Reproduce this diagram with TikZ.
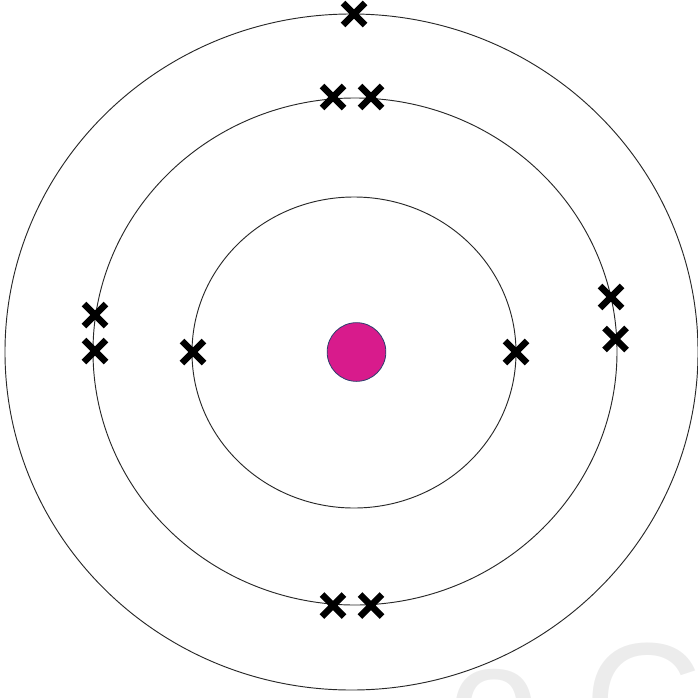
\documentclass[tikz,border=0pt]{standalone}
\usepackage{fontspec}
\usepackage{tikz}
\usetikzlibrary{shapes.geometric,shapes.misc}
\newfontfamily\markfont{Liberation Sans}
\definecolor{cNucleus}{RGB}{216,27,140}
\definecolor{cRim}{RGB}{47,63,110}
\definecolor{cShell}{RGB}{40,40,40}
\definecolor{cMark}{RGB}{236,236,236}
\tikzset{
  shell/.style={draw=cShell, ellipse, line width=0.8pt, inner sep=0pt},
  nucleus/.style={draw=cRim, fill=cNucleus, circle, line width=0.7pt,
                  minimum size=1.76cm, inner sep=0pt},
  electron/.style={draw=black, cross out, line width=0.2cm,
                   minimum size=0.46cm, inner sep=0pt},
  wmark/.style={text=cMark, font=\markfont\fontsize{140}{140}\selectfont,
                inner sep=0pt, anchor=base west},
}

\begin{document}
\begin{tikzpicture}[x=0.03cm, y=-0.03cm]
  \useasboundingbox (0,0) rectangle (698,698);
  \clip (0,0) rectangle (698,698);
  \node[wmark] (mark) at (448,757) {o Co};

  \node[shell, minimum width=20.79cm, minimum height=20.28cm] (shell3) at (351.5,352) {};
  \node[shell, minimum width=15.72cm, minimum height=15.21cm] (shell2) at (355,351.5) {};
  \node[shell, minimum width=9.72cm, minimum height=9.33cm] (shell1) at (354,352.5) {};
  \node[nucleus] (core) at (356.5,352) {};

  % inner shell
  \node[electron] (e1) at (193,352) {};
  \node[electron] (e2) at (516,352) {};
  % middle shell
  \foreach \n/\x/\y in {3/333/97, 4/371/97, 5/333/605.5, 6/371/605.5,
                        7/95/315, 8/95/351, 9/611/297, 10/615.5/339}
    \node[electron] (e\n) at (\x,\y) {};
  % outer shell
  \node[electron] (e11) at (354,14) {};
\end{tikzpicture}
\end{document}
